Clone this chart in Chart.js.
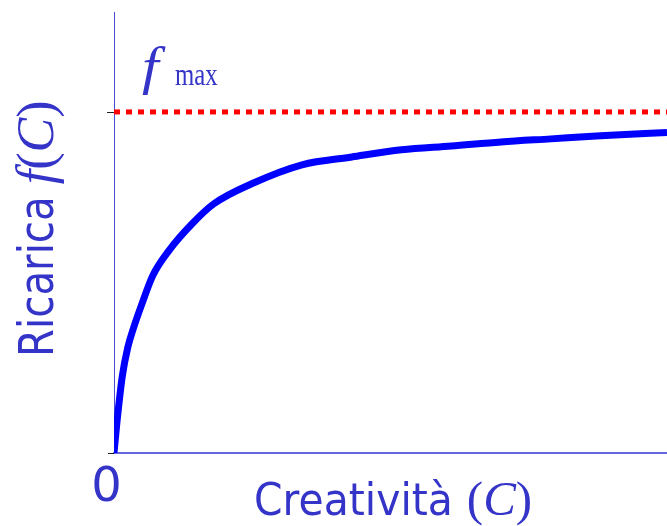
<!DOCTYPE html>
<html>
<head>
<meta charset="utf-8">
<title>Ricarica f(C)</title>
<script src="https://cdn.jsdelivr.net/npm/chart.js@4/dist/chart.umd.min.js"></script>
<style>
  html, body { margin: 0; padding: 0; background: #ffffff; }
  #wrap { width: 667px; height: 526px; }
</style>
</head>
<body>
<div id="wrap"><canvas id="c" width="667" height="526"></canvas></div>
<script>
// Creativity values (C) and the recharge they give, f(C), in units of f_max
const creativity = [0, 0.5, 1.5, 2.5, 3.5, 5, 7, 10, 14, 18, 25, 34, 43, 52, 61, 70, 79, 88, 100];
const recharge   = [0, 0.085, 0.225, 0.31, 0.365, 0.435, 0.52, 0.595, 0.67, 0.73, 0.79, 0.845, 0.868, 0.889, 0.9, 0.912, 0.921, 0.93, 0.94];
// Saturation level
const fMax = 1;
// Axis ranges
const xRange = [0, 100];
const yRange = [0, 1.293];
// Tick labels
const originLabel = '0';

const textBlue = '#3434c8';
const sans = '"DejaVu Sans", Verdana, sans-serif';
const serif = '"Liberation Serif", "Times New Roman", serif';

// Draws a run of text pieces one after another, each in its own font
function drawRun(ctx, pieces) {
  let pos = 0;
  for (const p of pieces) {
    ctx.font = p.font;
    const w = ctx.measureText(p.text).width;
    const k = p.scale || 1;
    ctx.save();
    ctx.translate(pos, 0);
    ctx.scale(k, 1);
    ctx.fillText(p.text, 0, 0);
    ctx.restore();
    pos += w * k + (p.gap || 0);
  }
}

const labelsPlugin = {
  id: 'axisText',
  afterDraw(chart) {
    const {ctx, scales: {x, y}} = chart;
    const x0 = x.getPixelForValue(xRange[0]);
    const yZero = y.getPixelForValue(0);
    const yMaxPx = y.getPixelForValue(fMax);
    ctx.save();

    // small tick marks on the vertical axis
    ctx.strokeStyle = '#222222';
    ctx.lineWidth = 1;
    ctx.beginPath();
    ctx.moveTo(x0 - 7, Math.round(yMaxPx) + 0.5);
    ctx.lineTo(x0, Math.round(yMaxPx) + 0.5);
    ctx.moveTo(x0 - 6, Math.round(yZero) + 0.5);
    ctx.lineTo(x0, Math.round(yZero) + 0.5);
    ctx.stroke();

    ctx.fillStyle = textBlue;
    ctx.textBaseline = 'alphabetic';

    // origin label
    ctx.textAlign = 'center';
    ctx.font = '48px ' + sans;
    ctx.fillText(originLabel, x0 - 7.5, yZero + 48);
    ctx.textAlign = 'left';

    // f_max label above the dotted line
    ctx.save();
    ctx.translate(x0 + 28, yMaxPx - 28);
    ctx.scale(1.15, 1);
    ctx.font = 'italic 52px ' + serif;
    ctx.fillText('f', 0, 0);
    ctx.restore();
    ctx.save();
    ctx.translate(x0 + 61, yMaxPx - 27);
    ctx.scale(0.8, 1);
    ctx.font = '31px ' + serif;
    ctx.fillText('max', 0, 0);
    ctx.restore();

    // horizontal axis title
    ctx.save();
    ctx.translate(254, 515);
    drawRun(ctx, [
      {text: 'Creatività', font: '44px ' + sans, scale: 0.93},
      {text: ' ', font: '44px ' + sans},
      {text: '(', font: '49px ' + serif},
      {text: 'C', font: 'italic 49px ' + serif},
      {text: ')', font: '49px ' + serif}
    ]);
    ctx.restore();

    // vertical axis title
    ctx.save();
    ctx.translate(53, 357);
    ctx.rotate(-Math.PI / 2);
    drawRun(ctx, [
      {text: 'Ricarica', font: '48px ' + sans, scale: 0.84, gap: 12},
      {text: 'f', font: 'italic 52px ' + serif},
      {text: '(', font: '52px ' + serif},
      {text: 'C', font: 'italic 52px ' + serif},
      {text: ')', font: '52px ' + serif}
    ]);
    ctx.restore();

    ctx.restore();
  }
};

const curve = creativity.map((c, i) => ({x: c, y: recharge[i]}));
const maxLine = [{x: xRange[0], y: fMax}, {x: xRange[1], y: fMax}];

new Chart(document.getElementById('c'), {
  type: 'line',
  data: {
    datasets: [
      {
        data: maxLine,
        borderColor: '#ff0000',
        borderWidth: 5,
        borderDash: [6, 6],
        borderCapStyle: 'butt',
        pointRadius: 0,
        fill: false
      },
      {
        data: curve,
        borderColor: '#0000ff',
        borderWidth: 7,
        cubicInterpolationMode: 'monotone',
        borderJoinStyle: 'round',
        borderCapStyle: 'butt',
        pointRadius: 0,
        fill: false
      }
    ]
  },
  options: {
    responsive: false,
    animation: false,
    events: [],
    layout: {padding: {left: 114, right: 0, top: 12, bottom: 73}},
    plugins: {legend: {display: false}, tooltip: {enabled: false}, title: {display: false}},
    scales: {
      x: {
        type: 'linear',
        min: xRange[0],
        max: xRange[1],
        grid: {display: false, drawTicks: false},
        ticks: {display: false},
        border: {display: true, color: '#6767dc', width: 2}
      },
      y: {
        type: 'linear',
        min: yRange[0],
        max: yRange[1],
        grid: {display: false, drawTicks: false},
        ticks: {display: false},
        border: {display: true, color: '#4a4ad6', width: 1}
      }
    }
  },
  plugins: [labelsPlugin]
});
</script>
</body>
</html>
